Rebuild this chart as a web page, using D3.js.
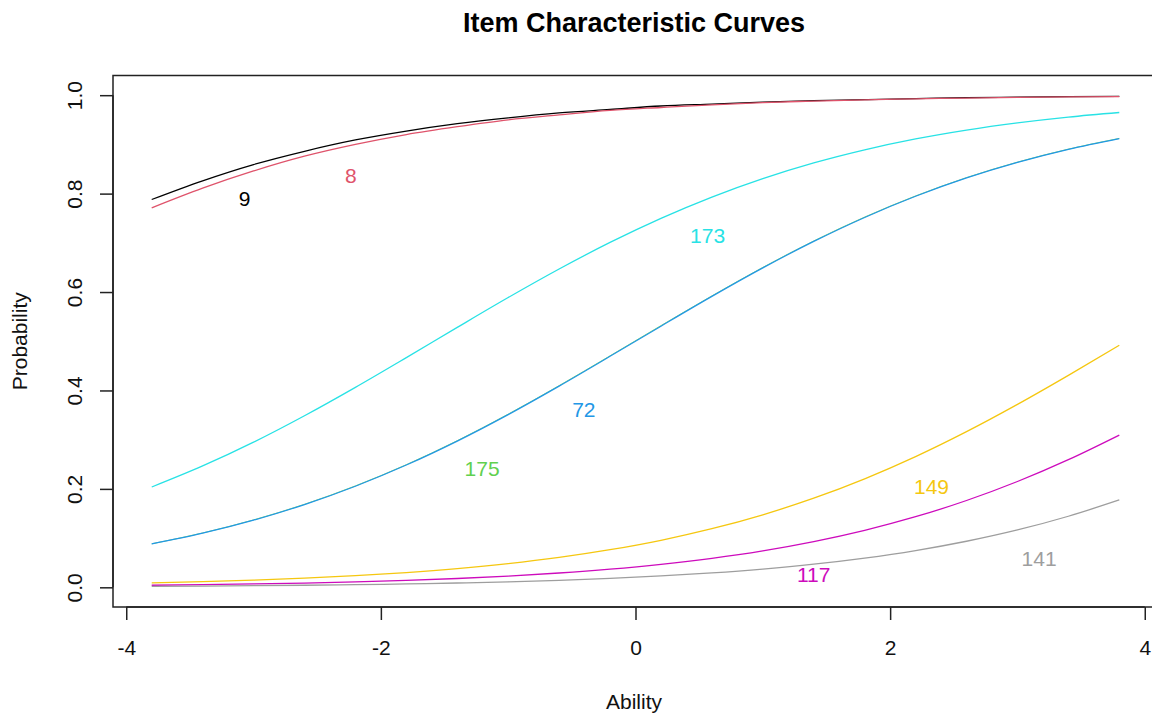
<!DOCTYPE html>
<html>
<head>
<meta charset="utf-8">
<script src="https://cdn.jsdelivr.net/npm/d3@7"></script>
<style>
  html, body { margin: 0; padding: 0; background: #ffffff; }
  svg { display: block; }
  text { font-family: "Liberation Sans", Arial, Helvetica, sans-serif; }
</style>
</head>
<body>
<svg id="chart" width="1152" height="713"></svg>
<script>
// ---- data ----
const theta = [-3.8, -3.4, -3.0, -2.6, -2.2, -1.8, -1.4, -1.0, -0.6, -0.2,
               0.2, 0.6, 1.0, 1.4, 1.8, 2.2, 2.6, 3.0, 3.4, 3.8];

const item9   = [0.788, 0.826, 0.859, 0.886, 0.909, 0.927, 0.942, 0.954, 0.964, 0.971,
                 0.978, 0.982, 0.986, 0.989, 0.991, 0.993, 0.995, 0.996, 0.997, 0.9975];
const item8   = [0.771, 0.811, 0.846, 0.876, 0.900, 0.920, 0.936, 0.950, 0.960, 0.969,
                 0.975, 0.9805, 0.985, 0.988, 0.9906, 0.9926, 0.9942, 0.9955, 0.9965, 0.9972];
const item175 = [0.0884, 0.1104, 0.1370, 0.1687, 0.2061, 0.2492, 0.2980, 0.3519, 0.4098, 0.4704,
                 0.5318, 0.5922, 0.6501, 0.7038, 0.7524, 0.7953, 0.8325, 0.8640, 0.8904, 0.9122];
const item72  = [0.0881, 0.1100, 0.1365, 0.1681, 0.2054, 0.2484, 0.2971, 0.3509, 0.4088, 0.4693,
                 0.5307, 0.5912, 0.6491, 0.7029, 0.7516, 0.7946, 0.8319, 0.8635, 0.8900, 0.9119];
const item173 = [0.2038, 0.2466, 0.2950, 0.3487, 0.4064, 0.4668, 0.5282, 0.5888, 0.6468, 0.7008,
                 0.7497, 0.7930, 0.8305, 0.8624, 0.8890, 0.9111, 0.9291, 0.9437, 0.9555, 0.9648];
const item117 = [0.00416, 0.00532, 0.00679, 0.00867, 0.01106, 0.01410, 0.01796, 0.02287, 0.02905, 0.03686,
                 0.04666, 0.0589, 0.0741, 0.0929, 0.1158, 0.1434, 0.1764, 0.2150, 0.2594, 0.3094];
const item149 = [0.00895, 0.01142, 0.01456, 0.01854, 0.02359, 0.02997, 0.0380, 0.0481, 0.0607, 0.0764,
                 0.0956, 0.1191, 0.1474, 0.1811, 0.2205, 0.2656, 0.3163, 0.3717, 0.4307, 0.4918];
const item141 = [0.00201, 0.00257, 0.00329, 0.00420, 0.00536, 0.00685, 0.00874, 0.01115, 0.01422, 0.01811,
                 0.02305, 0.02928, 0.03715, 0.04701, 0.0594, 0.0747, 0.0936, 0.1166, 0.1444, 0.1776];

const itemNames  = ["9", "8", "175", "72", "173", "117", "149", "141"];
const itemValues = [item9, item8, item175, item72, item173, item117, item149, item141];
const itemColors = ["#000000", "#DF536B", "#61D04F", "#2297E6", "#28E2E5", "#CD0BBC", "#F5C710", "#9E9E9E"];

// label anchor points (ability, probability) for each item
const labelAbility     = [-3.07, -2.235, -1.205, -0.406, 0.566, 1.40, 2.325, 3.17];
const labelProbability = [0.790, 0.8375, 0.242, 0.362, 0.716, 0.026, 0.204, 0.059];

const xTicks = [-4, -2, 0, 2, 4];
const yTicks = [0.0, 0.2, 0.4, 0.6, 0.8, 1.0];

const titleText = "Item Characteristic Curves";
const xLabel = "Ability";
const yLabel = "Probability";

// ---- drawing ----
const svg = d3.select("#chart");
svg.append("rect").attr("width", 1152).attr("height", 713).attr("fill", "#ffffff");

const x = d3.scaleLinear().domain([-4.104, 4.104]).range([113, 1158]);
const y = d3.scaleLinear().domain([-0.04, 1.04]).range([607, 75.5]);

const axisColor = "#222";
const fs = 21;

// curves
const line = d3.line()
  .x((d, i) => x(theta[i]))
  .y(d => y(d))
  .curve(d3.curveMonotoneX);

const widths = [1.3, 1.3, 0.8, 1.2, 1.3, 1.3, 1.3, 1.3];
itemValues.forEach((vals, k) => {
  svg.append("path")
    .datum(vals)
    .attr("d", line)
    .attr("fill", "none")
    .attr("stroke", itemColors[k])
    .attr("stroke-width", widths[k]);
});

// labels
itemNames.forEach((name, k) => {
  svg.append("text")
    .attr("x", x(labelAbility[k]))
    .attr("y", y(labelProbability[k]))
    .attr("dy", "0.36em")
    .attr("text-anchor", "middle")
    .attr("font-size", fs)
    .attr("fill", itemColors[k])
    .text(name);
});

// box
svg.append("rect")
  .attr("x", x(-4.104)).attr("y", y(1.04))
  .attr("width", x(4.104) - x(-4.104))
  .attr("height", y(-0.04) - y(1.04))
  .attr("fill", "none")
  .attr("stroke", axisColor)
  .attr("stroke-width", 1.5);

// x axis
const xAxis = d3.axisBottom(x).tickValues(xTicks).tickSize(13).tickSizeOuter(0)
  .tickPadding(20).tickFormat(d3.format("d"));
const gx = svg.append("g").attr("transform", `translate(0,${y(-0.04)})`).call(xAxis);
gx.select(".domain").attr("d", `M${x(-4)},0H${x(4)}`).attr("stroke", axisColor).attr("stroke-width", 1.5);
gx.selectAll(".tick line").attr("stroke", axisColor).attr("stroke-width", 1.5);
gx.selectAll(".tick text")
  .attr("font-size", fs).attr("font-family", "Liberation Sans, Arial, sans-serif")
  .attr("fill", "#111")
  .text(d => d < 0 ? "-" + Math.abs(d) : String(d));

// y axis
const yAxis = d3.axisLeft(y).tickValues(yTicks).tickSize(13).tickSizeOuter(0)
  .tickFormat(d3.format(".1f"));
const gy = svg.append("g").attr("transform", `translate(${x(-4.104)},0)`).call(yAxis);
gy.select(".domain").attr("d", `M0,${y(0)}V${y(1)}`).attr("stroke", axisColor).attr("stroke-width", 1.5);
gy.selectAll(".tick line").attr("stroke", axisColor).attr("stroke-width", 1.5);
gy.selectAll(".tick text")
  .attr("font-size", fs).attr("font-family", "Liberation Sans, Arial, sans-serif")
  .attr("fill", "#111")
  .attr("x", null).attr("dy", null)
  .attr("text-anchor", "middle")
  .attr("transform", "translate(-31,0) rotate(-90)");

// title and axis titles
svg.append("text")
  .attr("x", 634).attr("y", 32)
  .attr("text-anchor", "middle")
  .attr("font-size", 27).attr("font-weight", "bold")
  .attr("fill", "#000")
  .text(titleText);

svg.append("text")
  .attr("x", 634).attr("y", 709)
  .attr("text-anchor", "middle")
  .attr("font-size", fs)
  .attr("fill", "#111")
  .text(xLabel);

svg.append("text")
  .attr("transform", `translate(27,${(y(0) + y(1)) / 2}) rotate(-90)`)
  .attr("text-anchor", "middle")
  .attr("font-size", fs)
  .attr("fill", "#111")
  .text(yLabel);
</script>
</body>
</html>
